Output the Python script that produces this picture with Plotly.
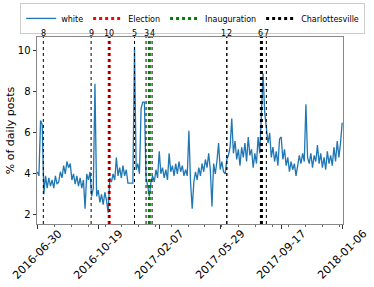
import pandas as pd
import plotly.graph_objects as go

# ---- data ----
start_date = "2016-06-30"
step_days = 3
white_values = [
    4.1, 3.9, 6.6, 6.4, 3.0, 3.9, 3.3, 3.8, 3.4, 3.7,
    3.3, 3.9, 3.5, 3.6, 4.1, 3.8, 4.4, 4.0, 4.6, 4.3,
    4.5, 3.7, 4.0, 3.5, 3.9, 3.4, 3.8, 3.3, 3.7, 2.3,
    4.0, 3.7, 4.1, 2.9, 3.3, 8.4, 2.9, 3.2, 2.6, 3.0,
    2.5, 3.1, 2.7, 2.1, 3.8, 3.6, 4.0, 3.7, 4.8, 3.9,
    4.3, 3.8, 4.4, 3.9, 4.2, 3.55, 3.55, 3.55, 3.55, 10.2,
    4.2, 4.5, 4.0, 7.2, 7.5, 7.5, 3.8, 3.4, 2.9, 3.6,
    3.9, 3.6, 4.2, 3.8, 5.1, 4.0, 4.3, 3.8, 4.2, 3.7,
    5.0, 4.1, 4.4, 3.9, 4.5, 4.0, 4.6, 4.1, 4.4, 3.9,
    4.2, 3.9, 6.1, 3.6, 2.3, 3.6, 4.1, 3.7, 4.3, 3.9,
    4.5, 4.1, 4.7, 4.3, 5.0, 4.2, 2.4, 4.5, 4.0, 4.6,
    5.5, 4.2, 4.6, 4.1, 4.0, 4.7, 4.9, 5.3, 6.7, 5.0,
    5.6, 4.7, 5.2, 4.4, 5.3, 4.8, 5.5, 4.6, 5.8, 4.9,
    5.2, 4.3, 5.0, 4.5, 5.8, 5.0, 7.5, 8.9, 7.0, 6.3,
    5.5, 6.0, 4.8, 5.3, 4.6, 5.1, 4.4, 5.7, 5.8, 4.7,
    5.2, 4.4, 4.8, 4.1, 4.6, 4.2, 4.5, 3.9, 4.4, 4.9,
    4.5, 5.0, 4.6, 7.4, 4.8, 4.5, 5.0, 4.3, 4.9, 4.6,
    5.4, 4.5, 5.0, 4.3, 4.8, 4.2, 5.1, 4.5, 4.9, 4.4,
    5.3, 4.6, 5.6, 4.8, 5.5, 6.5,
]
dates = pd.date_range(start_date, periods=len(white_values), freq=f"{step_days}D")

event_labels = ["8", "9", "10", "5", "3", "4", "1", "2", "6", "7"]
event_dates = ["2016-07-11", "2016-10-06", "2016-11-08", "2016-12-24", "2017-01-14",
               "2017-01-25", "2017-06-10", "2017-06-10", "2017-08-12", "2017-08-21"]
event_label_shift = [0, 0, 0, 0, 0, 0, -3, 3, -1, 0]

key_names = ["Election", "Inauguration", "Charlottesville"]
key_dates = ["2016-11-08", "2017-01-20", "2017-08-12"]
key_colors = ["#ff0000", "#008000", "#000000"]

tick_dates = ["2016-06-30", "2016-10-19", "2017-02-07", "2017-05-29", "2017-09-17", "2018-01-06"]
y_ticks = [2, 4, 6, 8, 10]
y_range = [1.55, 10.68]
x_range = ["2016-06-29 12:00", "2018-01-07 12:00"]

# ---- figure ----
fig = go.Figure()
fig.add_trace(go.Scatter(x=dates, y=white_values, mode="lines", name="white",
                         line=dict(color="#1f77b4", width=1.3)))

shapes = []
for d in event_dates:
    shapes.append(dict(type="line", xref="x", yref="paper", x0=d, x1=d, y0=0, y1=1,
                       line=dict(color="black", width=1, dash="dot"), layer="above"))

for name, d, c in zip(key_names, key_dates, key_colors):
    fig.add_trace(go.Scatter(x=[d, d], y=y_range, mode="lines", name=name,
                             line=dict(color=c, width=3, dash="dot"), hoverinfo="skip"))

annotations = []
for lab, d, s in zip(event_labels, event_dates, event_label_shift):
    annotations.append(dict(x=d, y=1, xref="x", yref="paper", text=lab, showarrow=False,
                            xanchor="center", yanchor="bottom", xshift=s, yshift=-3,
                            font=dict(size=8, color="black", family="DejaVu Sans")))
for d in tick_dates:
    annotations.append(dict(x=d, y=0, xref="x", yref="paper", text=d, showarrow=False,
                            textangle=-45, xanchor="center", yanchor="middle", yshift=-30,
                            font=dict(size=11, color="black", family="DejaVu Sans")))

fig.update_layout(
    width=374, height=287,
    margin=dict(l=37, r=31, t=37, b=63, autoexpand=False),
    paper_bgcolor="white", plot_bgcolor="white",
    font=dict(family="DejaVu Sans", color="black"),
    shapes=shapes,
    annotations=annotations,
    legend=dict(orientation="h", x=-0.055, xanchor="left",
                y=1.182, yanchor="top", font=dict(size=8),
                bordercolor="#cccccc", borderwidth=1, bgcolor="white",
                itemwidth=30, tracegroupgap=0),
    xaxis=dict(type="date", range=x_range, tickvals=tick_dates, showticklabels=False,
               ticks="outside", ticklen=3.5, tickcolor="#333", showgrid=False,
               showline=True, mirror=True, linecolor="#888", linewidth=1, zeroline=False,
               automargin=False,
               minor=dict(ticks="outside", ticklen=2, tickcolor="#666", dtick="M1",
                          tick0="2016-07-01", showgrid=False)),
    yaxis=dict(range=y_range, tickvals=y_ticks, ticks="outside", ticklen=3.5,
               tickcolor="#333", showgrid=False, showline=True, mirror=True,
               linecolor="#888", linewidth=1, zeroline=False, automargin=False,
               tickfont=dict(size=10), title=dict(text="% of daily posts",
                                                  font=dict(size=11), standoff=0)),
)

fig.write_html("out.html", config={"displayModeBar": False},
               post_script="document.body.style.margin='0';")
